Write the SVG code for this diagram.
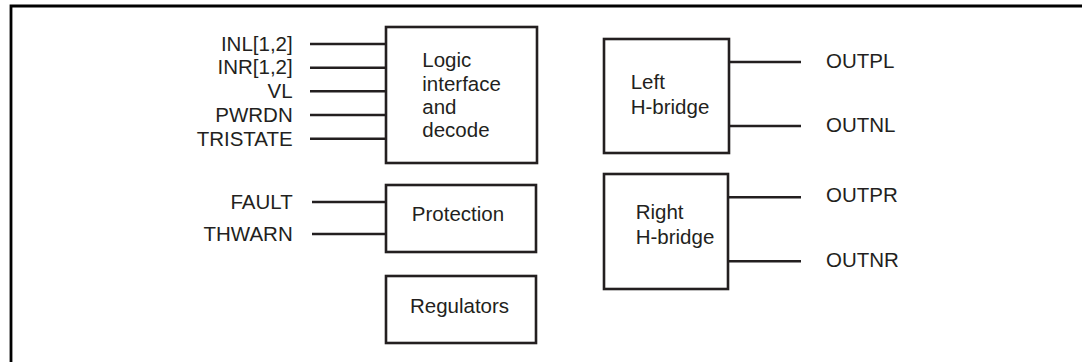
<svg xmlns="http://www.w3.org/2000/svg" width="1083" height="362" viewBox="0 0 1083 362">
<style>
.box{fill:#fff;stroke:#231f20;stroke-width:2.6}
.wire{stroke:#231f20;stroke-width:2.4;fill:none}
text{font-family:"Liberation Sans",Arial,sans-serif;font-size:20.5px;fill:#231f20}
.r{text-anchor:end}
</style>
<rect width="1083" height="362" fill="#fff"/>
<g id="frame">
<path d="M11,362 V6 H1082" fill="none" stroke="#000" stroke-width="2.8"/>
</g>
<g id="connectors">
<line class="wire" x1="310" y1="44" x2="386" y2="44"/>
<line class="wire" x1="310" y1="67.7" x2="386" y2="67.7"/>
<line class="wire" x1="310" y1="91.3" x2="386" y2="91.3"/>
<line class="wire" x1="310" y1="115" x2="386" y2="115"/>
<line class="wire" x1="310" y1="138.7" x2="386" y2="138.7"/>
<line class="wire" x1="312" y1="202" x2="386" y2="202"/>
<line class="wire" x1="312" y1="234" x2="386" y2="234"/>
<line class="wire" x1="729" y1="62" x2="801" y2="62"/>
<line class="wire" x1="729" y1="126" x2="801" y2="126"/>
<line class="wire" x1="728" y1="197.3" x2="801" y2="197.3"/>
<line class="wire" x1="728" y1="261.3" x2="801" y2="261.3"/>
</g>
<g id="input-labels">
<text class="r" x="292.7" y="50.5">INL[1,2]</text>
<text class="r" x="292.7" y="74.2">INR[1,2]</text>
<text class="r" x="292.7" y="97.8">VL</text>
<text class="r" x="292.7" y="121.5">PWRDN</text>
<text class="r" x="292.7" y="145.5">TRISTATE</text>
<text class="r" x="292.7" y="208.5">FAULT</text>
<text class="r" x="292.7" y="241">THWARN</text>
</g>
<g id="logic">
<rect class="box" x="386" y="27" width="151" height="136"/>
<text x="422.3" y="67">Logic</text>
<text x="422.3" y="90.5">interface</text>
<text x="422.3" y="113.8">and</text>
<text x="422.3" y="137.2">decode</text>
</g>
<g id="protection">
<rect class="box" x="386" y="185" width="150" height="67"/>
<text x="458" y="221" text-anchor="middle">Protection</text>
</g>
<g id="regulators">
<rect class="box" x="386" y="276" width="150" height="67"/>
<text x="459.5" y="312.7" text-anchor="middle">Regulators</text>
</g>
<g id="left-hbridge">
<rect class="box" x="604" y="39" width="125" height="114"/>
<text x="630.7" y="89">Left</text>
<text x="630.7" y="114">H-bridge</text>
</g>
<g id="right-hbridge">
<rect class="box" x="604" y="174" width="124" height="115"/>
<text x="635.7" y="219.3">Right</text>
<text x="635.7" y="244">H-bridge</text>
</g>
<g id="output-labels">
<text x="826" y="67.7">OUTPL</text>
<text x="826" y="132">OUTNL</text>
<text x="826" y="202.3">OUTPR</text>
<text x="826" y="266.7">OUTNR</text>
</g>
</svg>
